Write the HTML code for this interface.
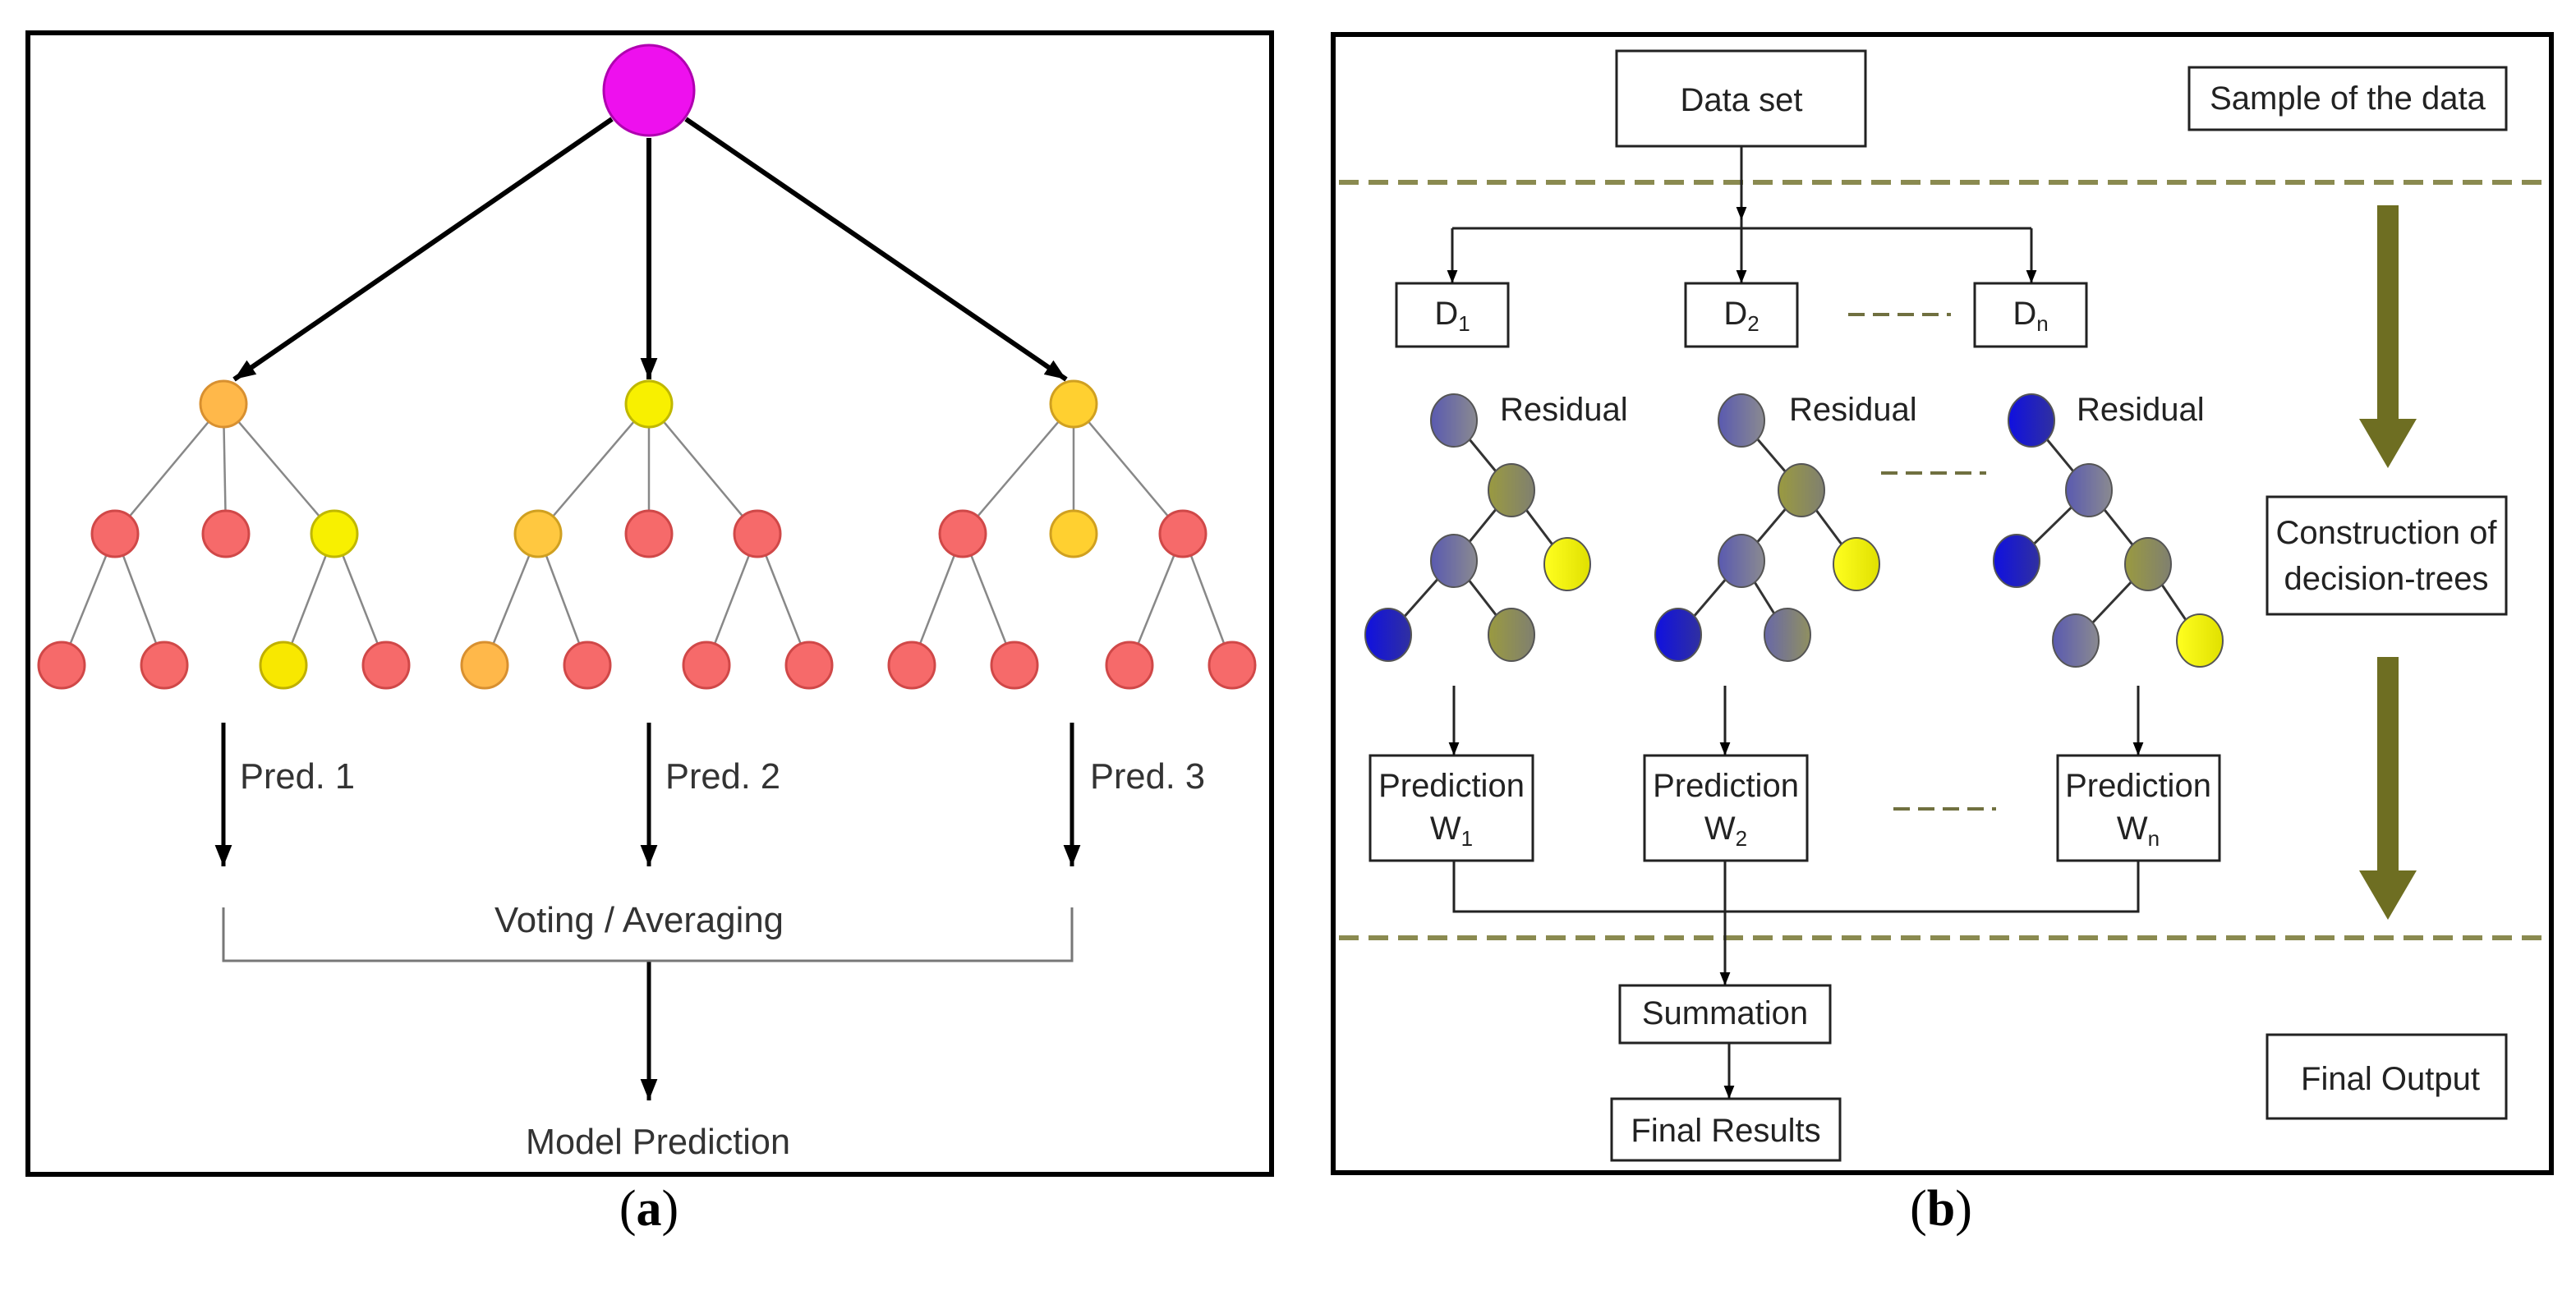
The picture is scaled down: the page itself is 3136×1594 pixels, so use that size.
<!DOCTYPE html>
<html><head><meta charset="utf-8"><style>html,body{margin:0;padding:0;background:#fff}svg{display:block}</style></head>
<body>
<svg width="3136" height="1594" viewBox="0 0 3136 1594" xmlns="http://www.w3.org/2000/svg" font-family="Liberation Sans, sans-serif">
<defs>
<marker id="ah" markerWidth="10" markerHeight="10" refX="9" refY="5" orient="auto" markerUnits="userSpaceOnUse" viewBox="0 0 10 10"><path d="M0,0 L10,5 L0,10 z" fill="#000"/></marker>
<marker id="bh" viewBox="0 0 10 10" refX="10" refY="5" markerWidth="26" markerHeight="26" orient="auto" markerUnits="userSpaceOnUse"><path d="M0,1 L10,5 L0,9 z" fill="#000"/></marker>
<marker id="sh" viewBox="0 0 10 10" refX="10" refY="5" markerWidth="16" markerHeight="16" orient="auto" markerUnits="userSpaceOnUse"><path d="M0,1 L10,5 L0,9 z" fill="#000"/></marker>
<linearGradient id="g1" x1="0" x2="1"><stop offset="0" stop-color="#5a5ab0"/><stop offset="1" stop-color="#8a8a90"/></linearGradient>
<linearGradient id="g2" x1="0" x2="1"><stop offset="0" stop-color="#9a9a40"/><stop offset="1" stop-color="#808070"/></linearGradient>
<linearGradient id="g3" x1="0" x2="1"><stop offset="0" stop-color="#1010e0"/><stop offset="1" stop-color="#3030a0"/></linearGradient>
<linearGradient id="g4" x1="0" x2="1"><stop offset="0" stop-color="#6868a8"/><stop offset="1" stop-color="#909060"/></linearGradient>
<linearGradient id="g5" x1="0" x2="1"><stop offset="0" stop-color="#ffff20"/><stop offset="1" stop-color="#e0e000"/></linearGradient>
</defs>
<rect width="3136" height="1594" fill="#fff"/>

<!-- Panel A -->
<rect x="34" y="40" width="1514" height="1390" fill="none" stroke="#000" stroke-width="6"/>
<g stroke="#000" stroke-width="6" marker-end="url(#bh)">
<line x1="745" y1="145" x2="285" y2="462"/>
<line x1="790" y1="168" x2="790" y2="462"/>
<line x1="835" y1="145" x2="1298" y2="462"/>
</g>
<g stroke="#888" stroke-width="2.5">
<line x1="272" y1="492" x2="140" y2="650"/><line x1="272" y1="492" x2="275" y2="650"/><line x1="272" y1="492" x2="407" y2="650"/>
<line x1="140" y1="650" x2="75" y2="810"/><line x1="140" y1="650" x2="200" y2="810"/>
<line x1="407" y1="650" x2="345" y2="810"/><line x1="407" y1="650" x2="470" y2="810"/>
<line x1="790" y1="492" x2="655" y2="650"/><line x1="790" y1="492" x2="790" y2="650"/><line x1="790" y1="492" x2="922" y2="650"/>
<line x1="655" y1="650" x2="590" y2="810"/><line x1="655" y1="650" x2="715" y2="810"/>
<line x1="922" y1="650" x2="860" y2="810"/><line x1="922" y1="650" x2="985" y2="810"/>
<line x1="1307" y1="492" x2="1172" y2="650"/><line x1="1307" y1="492" x2="1307" y2="650"/><line x1="1307" y1="492" x2="1440" y2="650"/>
<line x1="1172" y1="650" x2="1110" y2="810"/><line x1="1172" y1="650" x2="1235" y2="810"/>
<line x1="1440" y1="650" x2="1375" y2="810"/><line x1="1440" y1="650" x2="1500" y2="810"/>
</g>
<circle cx="790" cy="110" r="55" fill="#ee10ee" stroke="#b000b0" stroke-width="3"/>
<g stroke-width="3">
<circle cx="272" cy="492" r="28" fill="#ffb84a" stroke="#d89030"/>
<circle cx="790" cy="492" r="28" fill="#f8f000" stroke="#c0b800"/>
<circle cx="1307" cy="492" r="28" fill="#ffd030" stroke="#d0a020"/>
<circle cx="140" cy="650" r="28" fill="#f66a6a" stroke="#d04848"/>
<circle cx="275" cy="650" r="28" fill="#f66a6a" stroke="#d04848"/>
<circle cx="407" cy="650" r="28" fill="#f8f000" stroke="#c0b800"/>
<circle cx="655" cy="650" r="28" fill="#ffc840" stroke="#d0a020"/>
<circle cx="790" cy="650" r="28" fill="#f66a6a" stroke="#d04848"/>
<circle cx="922" cy="650" r="28" fill="#f66a6a" stroke="#d04848"/>
<circle cx="1172" cy="650" r="28" fill="#f66a6a" stroke="#d04848"/>
<circle cx="1307" cy="650" r="28" fill="#ffd030" stroke="#d0a020"/>
<circle cx="1440" cy="650" r="28" fill="#f66a6a" stroke="#d04848"/>
<circle cx="75" cy="810" r="28" fill="#f66a6a" stroke="#d04848"/>
<circle cx="200" cy="810" r="28" fill="#f66a6a" stroke="#d04848"/>
<circle cx="345" cy="810" r="28" fill="#f8e800" stroke="#c0b000"/>
<circle cx="470" cy="810" r="28" fill="#f66a6a" stroke="#d04848"/>
<circle cx="590" cy="810" r="28" fill="#ffb84a" stroke="#d89030"/>
<circle cx="715" cy="810" r="28" fill="#f66a6a" stroke="#d04848"/>
<circle cx="860" cy="810" r="28" fill="#f66a6a" stroke="#d04848"/>
<circle cx="985" cy="810" r="28" fill="#f66a6a" stroke="#d04848"/>
<circle cx="1110" cy="810" r="28" fill="#f66a6a" stroke="#d04848"/>
<circle cx="1235" cy="810" r="28" fill="#f66a6a" stroke="#d04848"/>
<circle cx="1375" cy="810" r="28" fill="#f66a6a" stroke="#d04848"/>
<circle cx="1500" cy="810" r="28" fill="#f66a6a" stroke="#d04848"/>
</g>
<g stroke="#000" stroke-width="5" marker-end="url(#bh)">
<line x1="272" y1="880" x2="272" y2="1055"/>
<line x1="790" y1="880" x2="790" y2="1055"/>
<line x1="1305" y1="880" x2="1305" y2="1055"/>
<line x1="790" y1="1170" x2="790" y2="1340"/>
</g>
<polyline points="272,1105 272,1170 1305,1170 1305,1105" fill="none" stroke="#777" stroke-width="3"/>
<g font-size="44" fill="#333" transform="scale(1,1)">
<text x="292" y="960" textLength="140" lengthAdjust="spacingAndGlyphs">Pred. 1</text>
<text x="810" y="960" textLength="140" lengthAdjust="spacingAndGlyphs">Pred. 2</text>
<text x="1327" y="960" textLength="140" lengthAdjust="spacingAndGlyphs">Pred. 3</text>
<text x="602" y="1135" textLength="352" lengthAdjust="spacingAndGlyphs">Voting / Averaging</text>
<text x="640" y="1405" textLength="322" lengthAdjust="spacingAndGlyphs">Model Prediction</text>
</g>
<text x="790" y="1492" font-family="Liberation Serif, serif" font-size="62" text-anchor="middle">(<tspan font-weight="bold">a</tspan>)</text>

<!-- Panel B -->
<rect x="1623" y="42" width="1483" height="1386" fill="none" stroke="#000" stroke-width="6"/>
<g stroke="#8a8a50" stroke-width="6" stroke-dasharray="24,12">
<line x1="1630" y1="222" x2="3100" y2="222"/>
<line x1="1630" y1="1142" x2="3100" y2="1142"/>
</g>
<g stroke="#707040" stroke-width="4" stroke-dasharray="20,10">
<line x1="2250" y1="383" x2="2375" y2="383"/>
<line x1="2290" y1="576" x2="2418" y2="576"/>
<line x1="2305" y1="985" x2="2430" y2="985"/>
</g>
<g fill="#6e6e22">
<rect x="2894" y="250" width="26" height="262"/><path d="M2872,510 L2942,510 L2907,570 z"/>
<rect x="2894" y="800" width="26" height="262"/><path d="M2872,1060 L2942,1060 L2907,1120 z"/>
</g>
<g fill="#fff" stroke="#222" stroke-width="3">
<rect x="1968" y="62" width="303" height="116"/>
<rect x="2665" y="82" width="386" height="76"/>
<rect x="1700" y="345" width="136" height="77"/>
<rect x="2052" y="345" width="136" height="77"/>
<rect x="2404" y="345" width="136" height="77"/>
<rect x="1668" y="920" width="198" height="128"/>
<rect x="2002" y="920" width="198" height="128"/>
<rect x="2505" y="920" width="197" height="128"/>
<rect x="1972" y="1200" width="256" height="70"/>
<rect x="1962" y="1338" width="278" height="75"/>
<rect x="2760" y="605" width="291" height="143"/>
<rect x="2760" y="1260" width="291" height="102"/>
</g>
<g stroke="#222" stroke-width="3" fill="none">
<line x1="2120" y1="178" x2="2120" y2="278"/>
<line x1="1768" y1="278" x2="2473" y2="278"/>
<polyline points="1770,1048 1770,1110 2603,1110 2603,1048"/>
</g>
<g stroke="#222" stroke-width="3" marker-end="url(#sh)">
<line x1="2120" y1="200" x2="2120" y2="268"/>
<line x1="1768" y1="278" x2="1768" y2="345"/>
<line x1="2120" y1="278" x2="2120" y2="345"/>
<line x1="2473" y1="278" x2="2473" y2="345"/>
<line x1="1770" y1="835" x2="1770" y2="920"/>
<line x1="2100" y1="835" x2="2100" y2="920"/>
<line x1="2603" y1="835" x2="2603" y2="920"/>
<line x1="2100" y1="1048" x2="2100" y2="1200"/>
<line x1="2105" y1="1270" x2="2105" y2="1338"/>
</g>
<!-- trees -->
<g stroke="#333" stroke-width="3">
<line x1="1770" y1="512" x2="1840" y2="597"/><line x1="1840" y1="597" x2="1770" y2="683"/><line x1="1840" y1="597" x2="1908" y2="687"/><line x1="1770" y1="683" x2="1690" y2="773"/><line x1="1770" y1="683" x2="1840" y2="773"/>
<line x1="2120" y1="512" x2="2193" y2="597"/><line x1="2193" y1="597" x2="2120" y2="683"/><line x1="2193" y1="597" x2="2260" y2="687"/><line x1="2120" y1="683" x2="2043" y2="773"/><line x1="2120" y1="683" x2="2176" y2="773"/>
<line x1="2473" y1="512" x2="2543" y2="597"/><line x1="2543" y1="597" x2="2455" y2="683"/><line x1="2543" y1="597" x2="2615" y2="687"/><line x1="2615" y1="687" x2="2527" y2="780"/><line x1="2615" y1="687" x2="2678" y2="780"/>
</g>
<g stroke="#555" stroke-width="2">
<ellipse cx="1770" cy="512" rx="28" ry="32" fill="url(#g1)"/>
<ellipse cx="1840" cy="597" rx="28" ry="32" fill="url(#g2)"/>
<ellipse cx="1770" cy="683" rx="28" ry="32" fill="url(#g1)"/>
<ellipse cx="1908" cy="687" rx="28" ry="32" fill="url(#g5)"/>
<ellipse cx="1690" cy="773" rx="28" ry="32" fill="url(#g3)"/>
<ellipse cx="1840" cy="773" rx="28" ry="32" fill="url(#g2)"/>
<ellipse cx="2120" cy="512" rx="28" ry="32" fill="url(#g1)"/>
<ellipse cx="2193" cy="597" rx="28" ry="32" fill="url(#g2)"/>
<ellipse cx="2120" cy="683" rx="28" ry="32" fill="url(#g1)"/>
<ellipse cx="2260" cy="687" rx="28" ry="32" fill="url(#g5)"/>
<ellipse cx="2043" cy="773" rx="28" ry="32" fill="url(#g3)"/>
<ellipse cx="2176" cy="773" rx="28" ry="32" fill="url(#g4)"/>
<ellipse cx="2473" cy="512" rx="28" ry="32" fill="url(#g3)"/>
<ellipse cx="2543" cy="597" rx="28" ry="32" fill="url(#g1)"/>
<ellipse cx="2455" cy="683" rx="28" ry="32" fill="url(#g3)"/>
<ellipse cx="2615" cy="687" rx="28" ry="32" fill="url(#g2)"/>
<ellipse cx="2527" cy="780" rx="28" ry="32" fill="url(#g1)"/>
<ellipse cx="2678" cy="780" rx="28" ry="32" fill="url(#g5)"/>
</g>
<g font-size="40" fill="#222">
<text x="2120" y="135" text-anchor="middle">Data set</text>
<text x="2858" y="133" text-anchor="middle">Sample of the data</text>
<text x="1768" y="395" text-anchor="middle">D<tspan font-size="26" dy="8">1</tspan></text>
<text x="2120" y="395" text-anchor="middle">D<tspan font-size="26" dy="8">2</tspan></text>
<text x="2472" y="395" text-anchor="middle">D<tspan font-size="26" dy="8">n</tspan></text>
<text x="1826" y="512">Residual</text>
<text x="2178" y="512">Residual</text>
<text x="2528" y="512">Residual</text>
<text x="1767" y="970" text-anchor="middle">Prediction</text>
<text x="2101" y="970" text-anchor="middle">Prediction</text>
<text x="2603" y="970" text-anchor="middle">Prediction</text>
<text x="1767" y="1022" text-anchor="middle">W<tspan font-size="26" dy="8">1</tspan></text>
<text x="2101" y="1022" text-anchor="middle">W<tspan font-size="26" dy="8">2</tspan></text>
<text x="2603" y="1022" text-anchor="middle">W<tspan font-size="26" dy="8">n</tspan></text>
<text x="2100" y="1247" text-anchor="middle">Summation</text>
<text x="2101" y="1390" text-anchor="middle">Final Results</text>
<text x="2905" y="662" text-anchor="middle">Construction of</text>
<text x="2905" y="718" text-anchor="middle">decision-trees</text>
<text x="2910" y="1327" text-anchor="middle">Final Output</text>
</g>
<text x="2363" y="1492" font-family="Liberation Serif, serif" font-size="62" text-anchor="middle">(<tspan font-weight="bold">b</tspan>)</text>
</svg>
</body></html>
